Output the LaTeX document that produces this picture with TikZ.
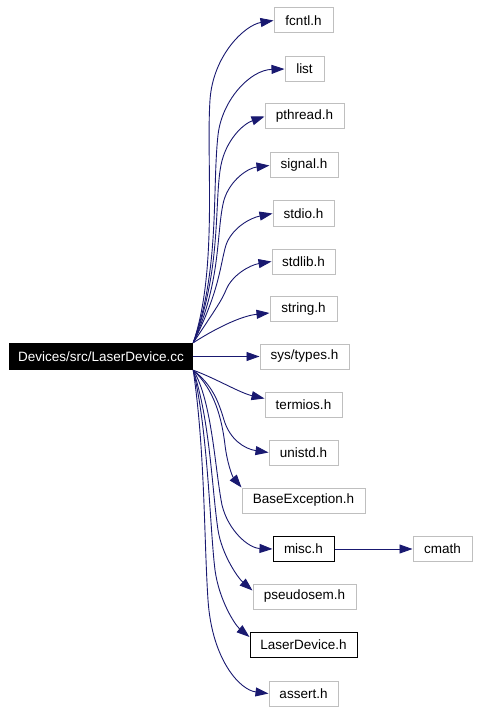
\documentclass[tikz,border=0pt]{standalone}
\usepackage{fontspec}
\setmainfont{Liberation Sans}
\usetikzlibrary{arrows.meta}
\definecolor{edgeblue}{RGB}{25,25,112}
\definecolor{boxgray}{RGB}{191,191,191}
\begin{document}
\begin{tikzpicture}[x=1pt,y=-1pt,
  box/.style={draw=boxgray,line width=1pt,fill=white,inner sep=0pt,minimum height=25pt,font=\fontsize{13.5}{15}\selectfont},
  boxdark/.style={box,draw=black},
  mainbox/.style={fill=black,text=white,inner sep=0pt,minimum height=27pt,minimum width=184pt,font=\fontsize{13.5}{15}\selectfont},
  edge/.style={draw=edgeblue,line width=0.9pt,-{Triangle[length=13pt,width=9pt]},fill=none}]
\useasboundingbox (0,0) rectangle (479,711);
\node[mainbox] (main) at (101,356.5) {Devices/src/LaserDevice.cc};
\node[box,minimum width=59pt] (fcntl) at (303.5,20.5) {fcntl.h};
\node[box,minimum width=39pt] (list) at (304.5,69) {list};
\node[box,minimum width=79pt] (pthread) at (304.5,116.5) {pthread.h};
\node[box,minimum width=68pt] (signal) at (304,165.5) {signal.h};
\node[box,minimum width=61pt] (stdio) at (303.5,213.5) {stdio.h};
\node[box,minimum width=63pt] (stdlib) at (303.5,261.5) {stdlib.h};
\node[box,minimum width=67pt] (string) at (303.5,309) {string.h};
\node[box,minimum width=89pt] (systypes) at (304.5,356.5) {sys/types.h};
\node[box,minimum width=77pt] (termios) at (303.5,404.5) {termios.h};
\node[box,minimum width=69pt] (unistd) at (303.5,452.5) {unistd.h};
\node[box,minimum width=123pt] (baseexc) at (303.5,500.5) {BaseException.h};
\node[boxdark,minimum width=61pt] (misc) at (303.5,549) {misc.h};
\node[box,minimum width=59pt] (cmath) at (442.5,549) {cmath};
\node[box,minimum width=103pt] (pseudosem) at (304.5,596.5) {pseudosem.h};
\node[boxdark,minimum width=107pt] (laserdev) at (303.5,645) {LaserDevice.h};
\node[box,minimum width=69pt] (assert) at (303.5,693.5) {assert.h};

\draw[edge] (main.north east) .. controls (218,270) and (206,160) .. (210,100) .. controls (213,55) and (245,25) .. (fcntl.west);
\draw[edge] (main.north east) .. controls (220,270) and (212,190) .. (218,135) .. controls (222,100) and (250,70) .. (list.west);
\draw[edge] (main.north east) .. controls (222,270) and (214,200) .. (221,165) .. controls (226,140) and (243,124) .. (pthread.west);
\draw[edge] (main.north east) .. controls (222,280) and (216,230) .. (224,200) .. controls (230,180) and (248,168) .. (signal.west);
\draw[edge] (main.north east) .. controls (220,290) and (220,265) .. (226,245) .. controls (232,228) and (250,218) .. (stdio.west);
\draw[edge] (main.north east) .. controls (215,310) and (222,300) .. (226,290) .. controls (232,275) and (250,265) .. (stdlib.west);
\draw[edge] (main.north east) .. controls (213,330) and (240,316) .. ([yshift=-4pt]string.west);
\draw[edge] (main.east) -- (systypes.west);
\draw[edge] (main.south east) .. controls (215,378) and (240,393) .. ([yshift=6pt]termios.west);
\draw[edge] (main.south east) .. controls (212,385) and (218,400) .. (224,420) .. controls (230,440) and (245,449) .. (unistd.west);
\draw[edge] (main.south east) .. controls (215,390) and (222,420) .. (225,445) .. controls (227,462) and (232,476) .. (baseexc.north west);
\draw[edge] (main.south east) .. controls (212,400) and (215,470) .. (222,505) .. controls (228,530) and (248,548) .. (misc.west);
\draw[edge] (main.south east) .. controls (210,420) and (212,490) .. (218,530) .. controls (222,555) and (238,578) .. ([yshift=6pt]pseudosem.west);
\draw[edge] (main.south east) .. controls (208,430) and (210,530) .. (215,570) .. controls (219,600) and (235,625) .. ([yshift=8pt]laserdev.west);
\draw[edge] (main.south east) .. controls (205,450) and (204,540) .. (208,600) .. controls (212,660) and (240,690) .. (assert.west);
\draw[edge] (misc.east) -- (cmath.west);
\end{tikzpicture}
\end{document}
